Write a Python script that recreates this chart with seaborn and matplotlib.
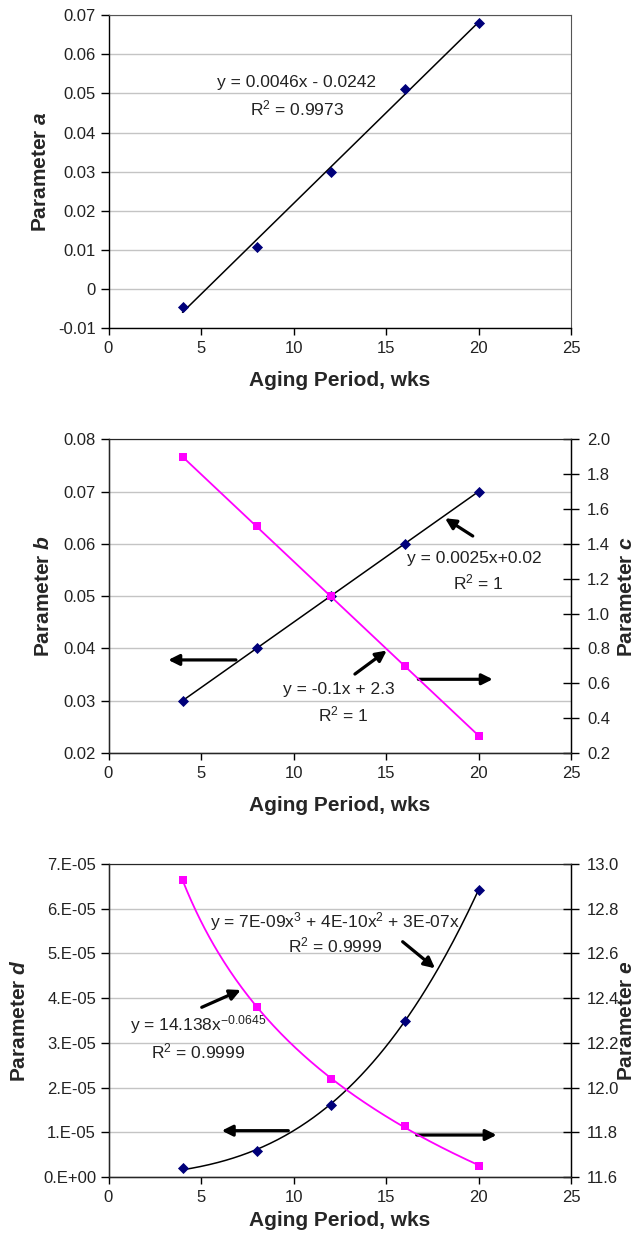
import numpy as np
import pandas as pd
import matplotlib
matplotlib.use("Agg")
import matplotlib.pyplot as plt
import seaborn as sns

# ---- data -------------------------------------------------------------
weeks = [4, 8, 12, 16, 20]
param_a = [-0.0044, 0.0109, 0.0300, 0.0512, 0.0680]
param_b = [0.030, 0.040, 0.050, 0.060, 0.070]
param_c = [1.9, 1.5, 1.1, 0.7, 0.3]
param_d = [2.0e-6, 5.8e-6, 1.62e-5, 3.50e-5, 6.41e-5]
param_e = [12.93, 12.36, 12.04, 11.83, 11.65]

x_ticks = [0, 5, 10, 15, 20, 25]
a_ticks = [-0.01, 0.0, 0.01, 0.02, 0.03, 0.04, 0.05, 0.06, 0.07]
a_tick_labels = ["-0.01", "0", "0.01", "0.02", "0.03", "0.04", "0.05", "0.06", "0.07"]
b_ticks = [0.02, 0.03, 0.04, 0.05, 0.06, 0.07, 0.08]
b_tick_labels = ["0.02", "0.03", "0.04", "0.05", "0.06", "0.07", "0.08"]
c_ticks = [0.2, 0.4, 0.6, 0.8, 1.0, 1.2, 1.4, 1.6, 1.8, 2.0]
c_tick_labels = ["0.2", "0.4", "0.6", "0.8", "1.0", "1.2", "1.4", "1.6", "1.8", "2.0"]
d_ticks = [0.0, 1e-5, 2e-5, 3e-5, 4e-5, 5e-5, 6e-5, 7e-5]
d_tick_labels = ["0.E+00", "1.E-05", "2.E-05", "3.E-05", "4.E-05", "5.E-05", "6.E-05", "7.E-05"]
e_ticks = [11.6, 11.8, 12.0, 12.2, 12.4, 12.6, 12.8, 13.0]
e_tick_labels = ["11.6", "11.8", "12.0", "12.2", "12.4", "12.6", "12.8", "13.0"]

eq_a = ["y = 0.0046x - 0.0242", "R$^{2}$ = 0.9973"]
eq_b = ["y = 0.0025x+0.02", "R$^{2}$ = 1"]
eq_c = ["y = -0.1x + 2.3", "R$^{2}$ = 1"]
eq_d = ["y = 7E-09x$^{3}$ + 4E-10x$^{2}$ + 3E-07x", "R$^{2}$ = 0.9999"]
eq_e = ["y = 14.138x$^{-0.0645}$", "R$^{2}$ = 0.9999"]

x_label = "Aging Period, wks"

# ---- style ------------------------------------------------------------
sns.set_style("ticks")
plt.rcParams["font.family"] = ["Liberation Sans", "DejaVu Sans"]
plt.rcParams["mathtext.fontset"] = "custom"
plt.rcParams["mathtext.rm"] = "Liberation Sans"
plt.rcParams["mathtext.it"] = "Liberation Sans:italic"
plt.rcParams["mathtext.bf"] = "Liberation Sans:bold"
plt.rcParams["mathtext.bfit"] = "Liberation Sans:italic:bold"

NAVY = "#00007a"
MAGENTA = "#ff00ff"
GRID = "#c4c4c4"
TICK_FS = 12
LABEL_FS = 15
EQ_FS = 12.5

W, H = 639, 1241
fig = plt.figure(figsize=(W / 100, H / 100), dpi=100)


def axes_at(left, top, right, bottom):
    return fig.add_axes([left / W, 1 - bottom / H, (right - left) / W, (bottom - top) / H])


ax1 = axes_at(108.5, 15, 571, 328.5)
ax2 = axes_at(108.5, 439.3, 571, 753)
ax3 = axes_at(108.5, 864, 571, 1177)

df = pd.DataFrame({"weeks": weeks, "a": param_a, "b": param_b, "c": param_c,
                   "d": param_d, "e": param_e})
x = np.asarray(weeks, dtype=float)
xs_line = np.linspace(x.min(), x.max(), 2)
xs_curve = np.linspace(x.min(), x.max(), 200)


def style_left(ax, ticks, labels, ylabel, label_x):
    ax.set_xlim(0, 25)
    ax.set_xticks(x_ticks)
    ax.set_xticklabels([str(t) for t in x_ticks])
    ax.set_ylim(ticks[0], ticks[-1])
    ax.set_yticks(ticks)
    ax.set_yticklabels(labels)
    ax.tick_params(axis="y", direction="out", length=6, width=1, pad=3, labelsize=TICK_FS, color="black")
    ax.tick_params(axis="x", direction="out", length=5, width=1, pad=4, labelsize=TICK_FS, color="black")
    for t in ax.get_xticklabels() + ax.get_yticklabels():
        t.set_color("#222222")
    ax.yaxis.grid(True, color=GRID, linewidth=1)
    ax.xaxis.grid(False)
    ax.set_axisbelow(True)
    for s in ("left", "bottom"):
        ax.spines[s].set_color("black")
        ax.spines[s].set_linewidth(1)
    ax.spines["top"].set_visible(True)
    ax.spines["top"].set_color("#555555")
    ax.spines["right"].set_visible(True)
    ax.spines["right"].set_color("#555555")
    ax.set_xlabel(x_label, fontsize=LABEL_FS, fontweight="bold", labelpad=11)
    ax.set_ylabel(ylabel, fontsize=LABEL_FS, fontweight="bold", va="center")
    ax.yaxis.set_label_coords(label_x, 0.5)


def style_right(ax, ticks, labels, ylabel, label_x):
    ax.set_ylim(ticks[0], ticks[-1])
    ax.set_yticks(ticks)
    ax.set_yticklabels(labels)
    ax.tick_params(axis="y", direction="inout", length=11, width=1, pad=6, labelsize=TICK_FS, color="black")
    for t in ax.get_yticklabels():
        t.set_color("#222222")
    ax.grid(False)
    ax.spines["right"].set_color("black")
    ax.spines["right"].set_linewidth(1)
    ax.set_ylabel(ylabel, fontsize=LABEL_FS, fontweight="bold", va="center", rotation=90)
    ax.yaxis.set_label_coords(label_x, 0.5)


def arrow(ax, tail, tip):
    ax.annotate("", xy=tip, xytext=tail,
                arrowprops=dict(arrowstyle="-|>", color="black", lw=2.3,
                                mutation_scale=16, shrinkA=0, shrinkB=0))


def equation(ax, xy, lines, dy):
    ax.text(xy[0], xy[1], lines[0], fontsize=EQ_FS, ha="center", va="center", color="#222222")
    ax.text(xy[0] + dy[0], xy[1] - dy[1], lines[1], fontsize=EQ_FS, ha="center", va="center", color="#222222")


# ---- panel a ----------------------------------------------------------
fit_a = np.polyfit(x, df["a"], 1)
sns.lineplot(x=xs_line, y=np.polyval(fit_a, xs_line), ax=ax1, color="black", linewidth=1.1)
sns.scatterplot(data=df, x="weeks", y="a", ax=ax1, marker="D", s=32, color=NAVY,
                edgecolor=NAVY, linewidth=0, zorder=3)
style_left(ax1, a_ticks, a_tick_labels, r"Parameter $\mathbfit{a}$", -0.148)
equation(ax1, (10.14, 0.0527), eq_a, (0.05, 0.0065))

# ---- panel b / c ------------------------------------------------------
ax2r = ax2.twinx()
fit_b = np.polyfit(x, df["b"], 1)
fit_c = np.polyfit(x, df["c"], 1)
sns.lineplot(x=xs_line, y=np.polyval(fit_b, xs_line), ax=ax2, color="black", linewidth=1.1)
sns.scatterplot(data=df, x="weeks", y="b", ax=ax2, marker="D", s=32, color=NAVY,
                edgecolor=NAVY, linewidth=0, zorder=3)
sns.lineplot(x=xs_line, y=np.polyval(fit_c, xs_line), ax=ax2r, color=MAGENTA, linewidth=1.3)
sns.scatterplot(data=df, x="weeks", y="c", ax=ax2r, marker="s", s=38, color=MAGENTA,
                edgecolor=MAGENTA, linewidth=0, zorder=3)
style_left(ax2, b_ticks, b_tick_labels, r"Parameter $\mathbfit{b}$", -0.1395)
style_right(ax2r, c_ticks, c_tick_labels, r"Parameter $\mathbfit{c}$", 1.121)
ax2r.set_xlim(0, 25)
equation(ax2, (19.8, 0.0572), eq_b, (0.2, 0.0045))
equation(ax2, (12.43, 0.0321), eq_c, (0.27, 0.0048))
arrow(ax2, (19.69, 0.0615), (18.19, 0.0649))
arrow(ax2, (13.32, 0.0351), (15.04, 0.0396))
arrow(ax2, (6.89, 0.0378), (3.23, 0.0378))
arrow(ax2, (16.75, 0.0341), (20.77, 0.0341))

# ---- panel d / e ------------------------------------------------------
ax3r = ax3.twinx()
basis = np.column_stack([x ** 3, x ** 2, x])
coef_d, *_ = np.linalg.lstsq(basis, np.asarray(param_d), rcond=None)
d_curve = coef_d[0] * xs_curve ** 3 + coef_d[1] * xs_curve ** 2 + coef_d[2] * xs_curve
fit_e = np.polyfit(np.log(x), np.log(param_e), 1)
e_curve = np.exp(fit_e[1]) * xs_curve ** fit_e[0]
sns.lineplot(x=xs_curve, y=d_curve, ax=ax3, color="black", linewidth=1.1)
sns.scatterplot(data=df, x="weeks", y="d", ax=ax3, marker="D", s=32, color=NAVY,
                edgecolor=NAVY, linewidth=0, zorder=3)
sns.lineplot(x=xs_curve, y=e_curve, ax=ax3r, color=MAGENTA, linewidth=1.3)
sns.scatterplot(data=df, x="weeks", y="e", ax=ax3r, marker="s", s=38, color=MAGENTA,
                edgecolor=MAGENTA, linewidth=0, zorder=3)
style_left(ax3, d_ticks, d_tick_labels, r"Parameter $\mathbfit{d}$", -0.1935)
style_right(ax3r, e_ticks, e_tick_labels, r"Parameter $\mathbfit{e}$", 1.121)
ax3r.set_xlim(0, 25)
ax3.xaxis.labelpad = 5
equation(ax3, (12.22, 5.71e-5), eq_d, (0.02, 0.54e-5))
equation(ax3, (4.84, 3.40e-5), eq_e, (0.01, 0.60e-5))
arrow(ax3, (15.90, 5.262e-5), (17.65, 4.667e-5))
arrow(ax3, (5.04, 3.795e-5), (7.15, 4.182e-5))
arrow(ax3, (9.72, 1.036e-5), (6.12, 1.036e-5))
arrow(ax3, (16.66, 0.939e-5), (20.98, 0.939e-5))

fig.savefig("out.png", dpi=100, facecolor="white")
